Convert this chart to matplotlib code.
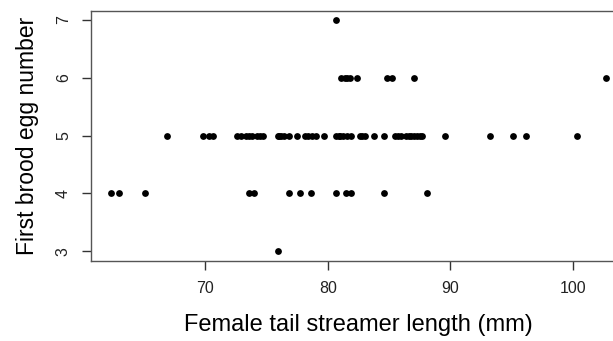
import matplotlib.pyplot as plt

plt.rcParams['font.family'] = ['Liberation Sans', 'DejaVu Sans']

# tail streamer length (mm) grouped by first brood egg number
eggs_3 = [75.9]
eggs_4 = [62.3, 63.0, 65.1, 73.6, 74.0, 76.8, 77.7, 78.6, 80.7, 81.5, 81.9,
          84.6, 88.1]
eggs_5 = [66.9, 69.8, 70.3, 70.6, 72.6, 72.9, 73.3, 73.6, 73.8, 74.2, 74.5,
          74.7, 75.9, 76.0, 76.2, 76.4, 76.8, 77.5, 78.1, 78.4, 78.7, 79.0,
          79.7, 80.7, 80.9, 81.0, 81.2, 81.6, 81.9, 82.6, 82.8, 83.0, 83.8,
          84.6, 85.5, 85.7, 86.0, 86.4, 86.6, 86.8, 87.0, 87.3, 87.5, 87.7,
          89.6, 93.2, 95.1, 96.2, 100.3]
eggs_6 = [81.1, 81.4, 81.6, 81.8, 82.4, 84.8, 85.2, 87.0, 102.7]
eggs_7 = [80.7]

x_ticks = [70, 80, 90, 100]
y_ticks = [3, 4, 5, 6, 7]

tail = eggs_3 + eggs_4 + eggs_5 + eggs_6 + eggs_7
eggs = ([3] * len(eggs_3) + [4] * len(eggs_4) + [5] * len(eggs_5)
        + [6] * len(eggs_6) + [7] * len(eggs_7))

fig = plt.figure(figsize=(6.13, 3.41), dpi=100)
ax = fig.add_axes([0.1485, 0.236, 0.8725, 0.733])

ax.scatter(tail, eggs, s=24, color='black', linewidths=0)

# R style 4% padding
span = max(tail) - min(tail)
ax.set_xlim(min(tail) - 0.04 * span, max(tail) + 0.04 * span)
ax.set_ylim(2.84, 7.16)
ax.set_xticks(x_ticks)
ax.set_yticks(y_ticks)
ax.set_yticklabels([str(t) for t in y_ticks], rotation=90, va='center')

for side in ['left', 'bottom', 'top', 'right']:
    ax.spines[side].set_color('#555555')
    ax.spines[side].set_linewidth(1.0)
ax.tick_params(length=6.5, width=1.0, color='#333333', labelcolor='#222222',
               labelsize=11.5, pad=8)

ax.set_xlabel('Female tail streamer length (mm)', fontsize=17, labelpad=13)
ax.set_ylabel('First brood egg number', fontsize=16.5, labelpad=12)

fig.savefig('out.png', dpi=100)
